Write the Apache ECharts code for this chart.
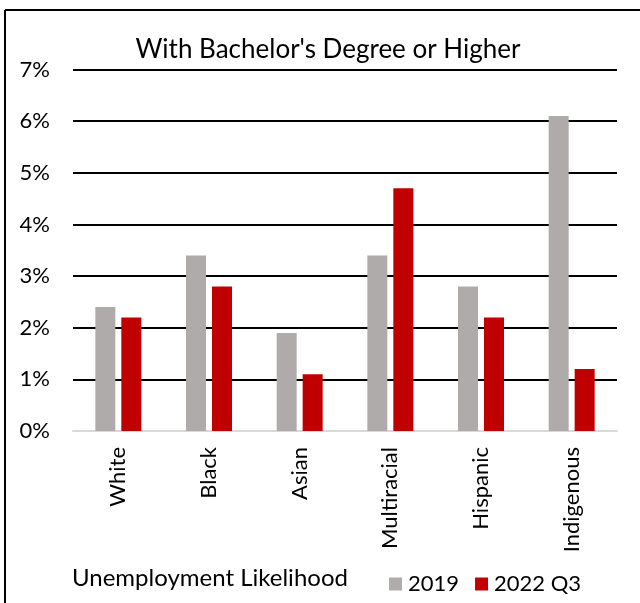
<!DOCTYPE html>
<html>
<head>
<meta charset="utf-8">
<script src="https://cdn.jsdelivr.net/npm/echarts@6/dist/echarts.min.js"></script>
<style>
  html, body { margin: 0; padding: 0; background: #fff; }
  #chart { width: 640px; height: 603px; }
</style>
</head>
<body>
<div id="chart"></div>
<script>
// data
const groups = ['White', 'Black', 'Asian', 'Multiracial', 'Hispanic', 'Indigenous']
const rate2019 = [2.4, 3.4, 1.9, 3.4, 2.8, 6.1]
const rate2022q3 = [2.2, 2.8, 1.1, 4.7, 2.2, 1.2]
const seriesNames = ['2019', '2022 Q3']

const font = 'Lato, "Open Sans", sans-serif'
const chart = echarts.init(document.getElementById('chart'))

const option = {
  animation: false,
  textStyle: { fontFamily: font },
  title: {
    text: "With Bachelor's Degree or Higher",
    left: 323,
    textAlign: 'center',
    top: 32,
    textStyle: { fontSize: 26, fontWeight: 'normal', color: '#000', fontFamily: font }
  },
  grid: { left: 73, right: 23, top: 69.5, bottom: 172 },
  graphic: [
    // frame (top + left only)
    { type: 'line', shape: { x1: 5, y1: 10, x2: 640, y2: 10 }, style: { stroke: '#000', lineWidth: 2 } },
    { type: 'line', shape: { x1: 5, y1: 10, x2: 5, y2: 603 }, style: { stroke: '#000', lineWidth: 2 } },
    {
      type: 'text', left: 72, top: 566,
      style: { text: 'Unemployment Likelihood', fontSize: 24, fill: '#000', fontFamily: font }
    }
  ],
  legend: {
    data: seriesNames,
    left: 384,
    top: 568,
    itemWidth: 13,
    itemHeight: 13,
    itemGap: 16,
    icon: 'rect',
    textStyle: { fontSize: 22, color: '#000', fontFamily: font, padding: [0, 0, 0, 1] }
  },
  xAxis: {
    type: 'category',
    data: groups,
    axisLine: { lineStyle: { color: '#d9d9d9', width: 2 } },
    axisTick: { show: false },
    axisLabel: { rotate: 90, fontSize: 22, color: '#000', margin: 16, fontFamily: font }
  },
  yAxis: {
    type: 'value',
    min: 0,
    max: 7,
    interval: 1,
    axisLabel: { formatter: '{value}%', fontSize: 22, color: '#000', margin: 23, fontFamily: font },
    splitLine: { lineStyle: { color: '#000', width: 2 } },
    axisLine: { show: false },
    axisTick: { show: false }
  },
  series: [
    {
      name: seriesNames[0],
      type: 'bar',
      data: rate2019,
      barWidth: 20,
      barGap: '30%',
      itemStyle: { color: '#aeabaa' },
      z: 3
    },
    {
      name: seriesNames[1],
      type: 'bar',
      data: rate2022q3,
      barWidth: 20,
      itemStyle: { color: '#c00000' },
      z: 3
    }
  ]
}

chart.setOption(option)
</script>
</body>
</html>
